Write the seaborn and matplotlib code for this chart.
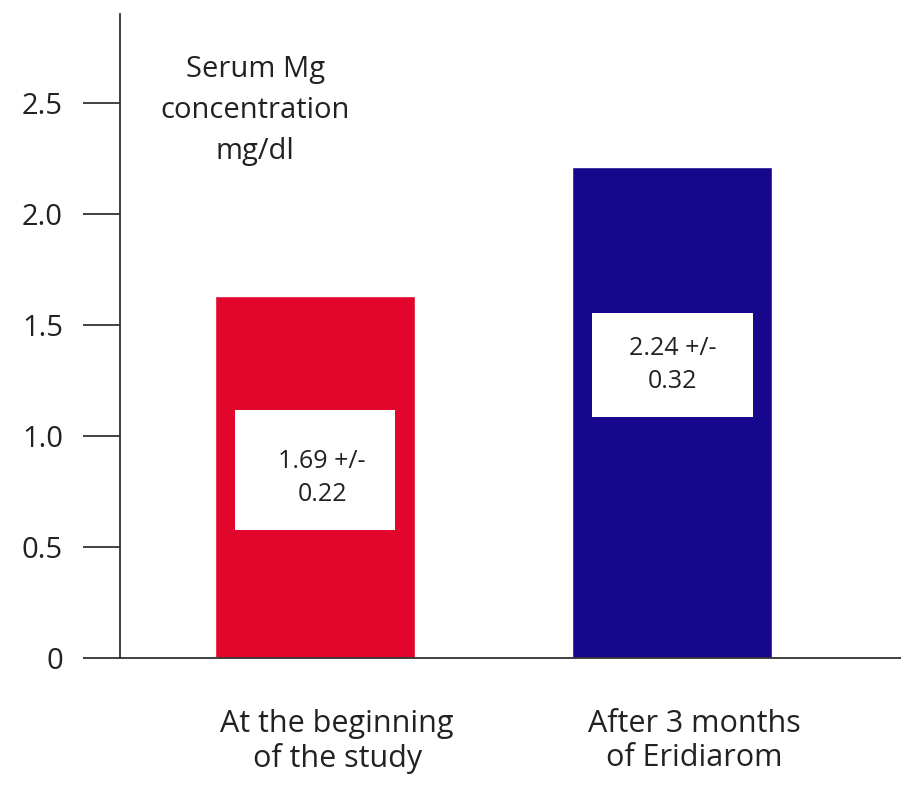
import matplotlib
matplotlib.use('Agg')
import matplotlib.pyplot as plt
import matplotlib.transforms as mtransforms
from matplotlib.patches import Rectangle
import seaborn as sns
import pandas as pd

# data
groups = ['At the beginning\nof the study', 'After 3 months\nof Eridiarom']
serum_mg = [1.63, 2.21]
box_labels = ['1.69 +/-\n0.22', '2.24 +/-\n0.32']
y_ticks = [0, 0.5, 1.0, 1.5, 2.0, 2.5]
y_tick_labels = ['0', '0.5', '1.0', '1.5', '2.0', '2.5']

bar_colors = ['#e2062c', '#16078c']

sns.set_style("white")
plt.rcParams['font.family'] = ['Open Sans', 'DejaVu Sans']

df = pd.DataFrame({'group': groups, 'mg': serum_mg})

fig = plt.figure(figsize=(9.01, 7.85), dpi=100)
ax = fig.add_axes([120 / 901, 1 - 658 / 785, 1 - 120 / 901, (658 - 14) / 785])

sns.barplot(data=df, x='group', y='mg', hue='group', palette=bar_colors,
            width=0.56, saturation=1, legend=False, ax=ax)

ax.set_xlim(-0.546, 1.64)
ax.set_ylim(0, 2.9)

# white value boxes in the middle of each bar
box_centers = [0.847, 1.32]
box_heights = [0.54, 0.47]
text_centers = [0.81, 1.32]
text_dx = [0.02, 0.0]
for i, txt in enumerate(box_labels):
    yc, h = box_centers[i], box_heights[i]
    ax.add_patch(Rectangle((i - 0.225, yc - h / 2), 0.45, h, facecolor='white',
                           edgecolor='none', zorder=3))
    ax.text(i + text_dx[i], text_centers[i], txt, ha='center', va='center', fontsize=18,
            color='#222222', linespacing=1.4, zorder=4)

ax.text(0.173, 0.937, 'Serum Mg\nconcentration\nmg/dl', transform=ax.transAxes,
        ha='center', va='top', fontsize=21, color='#222222', linespacing=1.55)

ax.set_yticks(y_ticks)
ax.set_yticklabels(y_tick_labels, fontsize=21, color='#222222')
ax.tick_params(axis='y', direction='out', length=27, width=1.3, pad=14, color='#333333', left=True)
ax.tick_params(axis='x', length=0, pad=37, labelsize=22, labelcolor='#222222')
for lbl in ax.get_xticklabels():
    lbl.set_linespacing(1.15)
    lbl.set_transform(lbl.get_transform() + mtransforms.ScaledTranslation(0.22, 0, fig.dpi_scale_trans))

ax.set_xlabel('')
ax.set_ylabel('')
sns.despine(ax=ax)
ax.spines['left'].set_linewidth(1.3)
ax.spines['bottom'].set_linewidth(1.3)
ax.spines['left'].set_color('#333333')
ax.spines['bottom'].set_color('#333333')

plt.savefig('out.png', dpi=100)
plt.close()
